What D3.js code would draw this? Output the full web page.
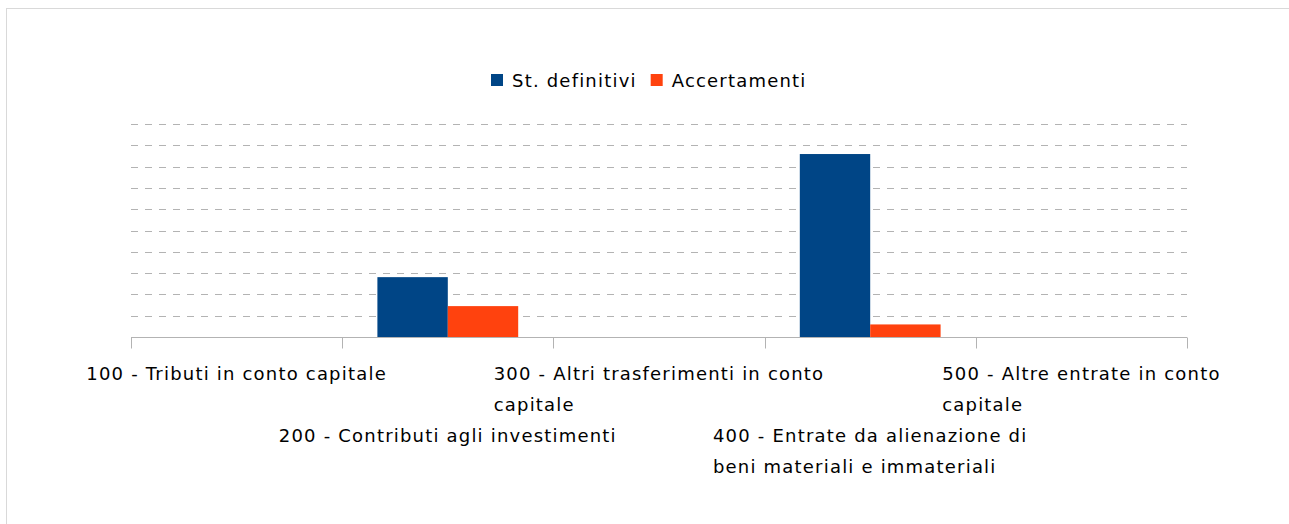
<!DOCTYPE html>
<html>
<head>
<meta charset="utf-8">
<style>
    body { margin: 0; background: #fff; }
    svg text { font-family: "DejaVu Sans", sans-serif; fill: #000; letter-spacing: 1.2px; }
</style>
</head>
<body>
<svg width="1289" height="524"></svg>

<script src="https://cdn.jsdelivr.net/npm/d3@7"></script>
<script>
    // categorie (titoli delle entrate in conto capitale)
    var categories = [
        "100 - Tributi in conto capitale",
        "200 - Contributi agli investimenti",
        "300 - Altri trasferimenti in conto capitale",
        "400 - Entrate da alienazione di beni materiali e immateriali",
        "500 - Altre entrate in conto capitale"
    ];
    var seriesNames = ["St. definitivi", "Accertamenti"];
    // valori (scala senza etichette, una linea = 1 unita')
    var stDefinitivi = [0, 2.81, 0, 8.59, 0];
    var accertamenti = [0, 1.45, 0, 0.59, 0];
    var gridTicks = [1, 2, 3, 4, 5, 6, 7, 8, 9, 10];

    var colors = ["#004586", "#ff420e"];

    var svg = d3.select("svg"),
        margin = { top: 124, left: 131, right: 102, bottom: 187 },
        width = +svg.attr("width") - margin.left - margin.right,
        height = +svg.attr("height") - margin.top - margin.bottom;

    // cornice
    svg.append("rect")
        .attr("x", 6.5).attr("y", 8.5)
        .attr("width", 1400).attr("height", 600)
        .attr("fill", "none")
        .attr("stroke", "#d9d9d9");

    var g = svg.append("g").attr("transform", "translate(" + margin.left + "," + margin.top + ")");

    var x0 = d3.scaleBand().domain(categories).range([0, width]).paddingInner(0).paddingOuter(0);
    var x1 = d3.scaleBand().domain(seriesNames).range([0, x0.bandwidth() * 2 / 3]);
    var y = d3.scaleLinear().domain([0, 10]).range([height, 0]);

    // griglia tratteggiata
    g.append("g")
        .selectAll("line")
        .data(gridTicks)
        .enter().append("line")
        .attr("x1", 0).attr("x2", width)
        .attr("y1", function (d) { return Math.round(y(d)) + 0.5; })
        .attr("y2", function (d) { return Math.round(y(d)) + 0.5; })
        .attr("stroke", "#b3b3b3")
        .attr("stroke-dasharray", "7,7");

    var data = categories.map(function (c, i) {
        return { cat: c, values: [stDefinitivi[i], accertamenti[i]] };
    });

    g.append("g")
        .selectAll("g")
        .data(data)
        .enter().append("g")
        .attr("transform", function (d) {
            return "translate(" + (x0(d.cat) + x0.bandwidth() / 6) + ",0)";
        })
        .selectAll("rect")
        .data(function (d) {
            return seriesNames.map(function (s, j) { return { key: s, value: d.values[j], c: colors[j] }; });
        })
        .enter().append("rect")
        .attr("x", function (d) { return x1(d.key); })
        .attr("y", function (d) { return y(d.value); })
        .attr("width", x1.bandwidth())
        .attr("height", function (d) { return height - y(d.value); })
        .attr("fill", function (d) { return d.c; });

    // asse x con tacche ai bordi delle categorie
    var axisY = Math.round(height) + 0.5;
    var ax = g.append("g");
    ax.append("line")
        .attr("x1", 0).attr("x2", width)
        .attr("y1", axisY).attr("y2", axisY)
        .attr("stroke", "#b3b3b3");
    var edges = categories.map(function (c) { return x0(c); }).concat([width]);
    ax.selectAll("line.tick")
        .data(edges)
        .enter().append("line")
        .attr("class", "tick")
        .attr("x1", function (d) { return Math.round(d) + 0.5; })
        .attr("x2", function (d) { return Math.round(d) + 0.5; })
        .attr("y1", axisY).attr("y2", axisY + 11)
        .attr("stroke", "#b3b3b3");

    // etichette sfalsate su due file, testo a capo
    var fontSize = 18, lineH = 31;
    var maxW = 345;
    var measure = svg.append("text").attr("font-size", fontSize).attr("visibility", "hidden");
    function textW(s) {
        measure.text(s);
        return measure.node().getComputedTextLength();
    }
    function wrap(str) {
        var words = str.split(" "), lines = [], cur = "";
        words.forEach(function (w) {
            var t = cur ? cur + " " + w : w;
            if (cur && textW(t) > maxW) {
                lines.push(cur); cur = w;
            } else cur = t;
        });
        lines.push(cur);
        return lines;
    }
    var wrapped = categories.map(wrap);
    var row1Lines = d3.max(wrapped.filter(function (d, i) { return i % 2 === 0; }), function (d) { return d.length; });
    var labelTop = height + 43;

    wrapped.forEach(function (lines, i) {
        var cx = x0(categories[i]) + x0.bandwidth() / 2;
        var w = d3.max(lines, textW);
        var base = labelTop + (i % 2 === 0 ? 0 : row1Lines * lineH);
        var t = g.append("text")
            .attr("font-size", fontSize)
            .attr("x", cx - w / 2)
            .attr("y", base);
        lines.forEach(function (l, k) {
            t.append("tspan").attr("x", cx - w / 2).attr("y", base + k * lineH).text(l);
        });
    });
    measure.remove();

    // legenda
    var legend = svg.append("g").attr("transform", "translate(491,74)");
    var lx = 0;
    seriesNames.forEach(function (s, i) {
        legend.append("rect").attr("x", lx).attr("y", 0).attr("width", 12).attr("height", 12).attr("fill", colors[i]);
        var t = legend.append("text").attr("x", lx + 21).attr("y", 12.5).attr("font-size", fontSize).text(s);
        lx += 21 + t.node().getComputedTextLength() + 14;
    });
</script>
</body>
</html>
